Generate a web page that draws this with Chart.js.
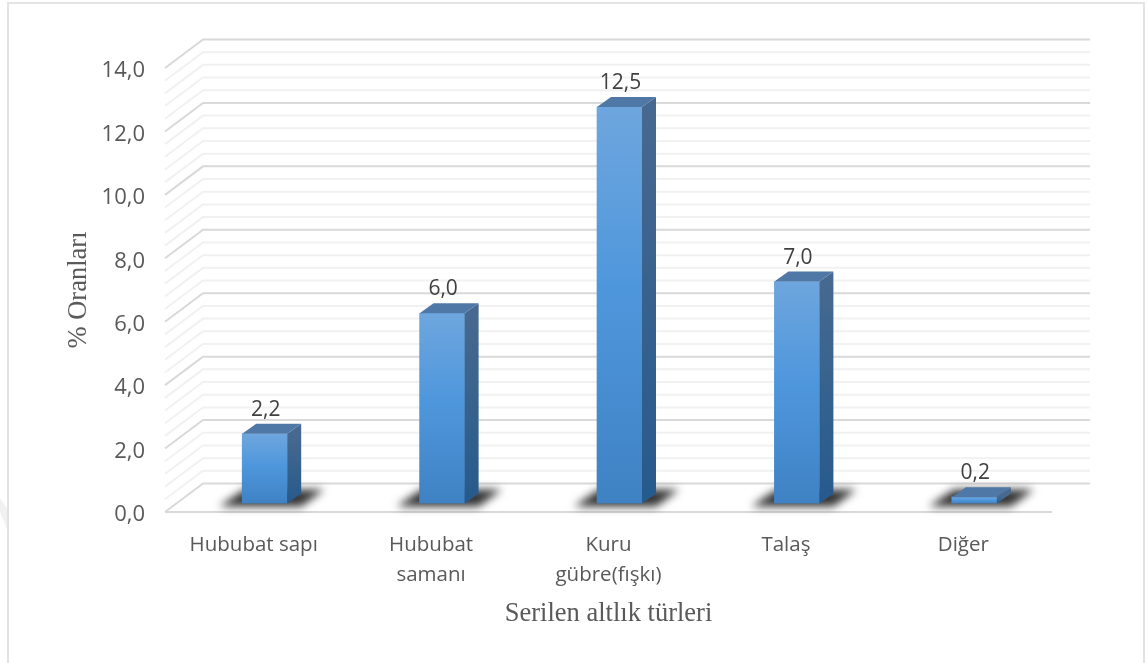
<!DOCTYPE html>
<html>
<head>
<meta charset="utf-8">
<title>Serilen altlık türleri</title>
<script src="https://cdn.jsdelivr.net/npm/chart.js@4/dist/chart.umd.min.js"></script>
<style>
  html, body { margin: 0; padding: 0; background: #fff; overflow: hidden; }
  #cerceve { position: absolute; left: 7px; top: 2px; width: 1134px; height: 700px; border: 2px solid #e3e3e3; }
  #damga { position: absolute; left: 0; top: 498px; width: 8px; height: 34px; background: #f1f1f1; clip-path: polygon(0 0, 100% 35%, 100% 100%, 0 40%); }
  canvas { position: absolute; left: 0; top: 0; }
</style>
</head>
<body>
<div id="damga"></div>
<div id="cerceve"></div>
<canvas id="grafik" width="1148" height="663"></canvas>
<script>
// veriler
const kategoriler = ['Hububat sapı', ['Hububat', 'samanı'], ['Kuru', 'gübre(fışkı)'], 'Talaş', 'Diğer'];
const oranlar = [2.2, 6.0, 12.5, 7.0, 0.2];
const araCizgiler = [0.4, 0.8, 1.2, 1.6];

// 3B görünüm için kaydırmalar
const duvar = { dx: 38, dy: -28.5 };
const sutunKayma = { dx: 11, dy: -8.5 };
const yan = { dx: 14, dy: -10 };

const virgullu = v => v.toFixed(1).replace('.', ',');

const zeminPlugin = {
    id: 'zemin',
    beforeDatasetsDraw(chart) {
        const { ctx, scales, chartArea } = chart;
        const y = scales.y;
        const sol = chartArea.left, sag = chartArea.right;
        const cizgi = (py, renk, kalin) => {
            ctx.strokeStyle = renk;
            ctx.lineWidth = kalin;
            ctx.beginPath();
            ctx.moveTo(sol, py);
            ctx.lineTo(sol + duvar.dx, py + duvar.dy);
            ctx.lineTo(sag + duvar.dx, py + duvar.dy);
            ctx.stroke();
        };
        ctx.save();
        // ara cizgiler once, ana cizgiler ustte
        for (let ana = 0; ana < 14; ana += 2) {
            araCizgiler.forEach(a => cizgi(y.getPixelForValue(ana + a), '#f1f1f1', 2));
        }
        for (let ana = 0; ana <= 14; ana += 2) {
            cizgi(y.getPixelForValue(ana), '#d9d9d9', 2);
        }
        // on kenar
        ctx.strokeStyle = '#d9d9d9';
        ctx.lineWidth = 2;
        ctx.beginPath();
        ctx.moveTo(sol, y.getPixelForValue(0));
        ctx.lineTo(sag, y.getPixelForValue(0));
        ctx.stroke();

        // golgeler
        const meta = chart.getDatasetMeta(0);
        meta.data.forEach(bar => {
            const sl = bar.x - bar.width / 2 + sutunKayma.dx;
            const sr = bar.x + bar.width / 2 + sutunKayma.dx;
            const alt = y.getPixelForValue(0) + sutunKayma.dy;
            ctx.save();
            ctx.filter = 'blur(4px)';
            ctx.fillStyle = 'rgba(40,40,40,0.95)';
            ctx.beginPath();
            ctx.moveTo(sl - 23, alt + 3);
            ctx.lineTo(sl + 2, alt - 14);
            ctx.lineTo(sr + 37, alt - 14);
            ctx.lineTo(sr + 14, alt + 3);
            ctx.closePath();
            ctx.fill();
            ctx.restore();
        });
        ctx.restore();

        // sutunlari derinlige tasi
        ctx.save();
        ctx.translate(sutunKayma.dx, sutunKayma.dy);
    },
    afterDatasetsDraw(chart) {
        const { ctx } = chart;
        const meta = chart.getDatasetMeta(0);
        meta.data.forEach((bar, i) => {
            const sag = bar.x + bar.width / 2;
            const sol = bar.x - bar.width / 2;
            const ust = bar.y, alt = bar.base;
            // yan yuz
            const g = ctx.createLinearGradient(0, ust, 0, alt);
            g.addColorStop(0, '#47698f');
            g.addColorStop(1, '#265a8c');
            ctx.fillStyle = g;
            ctx.beginPath();
            ctx.moveTo(sag, ust);
            ctx.lineTo(sag + yan.dx, ust + yan.dy);
            ctx.lineTo(sag + yan.dx, alt + yan.dy);
            ctx.lineTo(sag, alt);
            ctx.closePath();
            ctx.fill();
            // ust yuz
            ctx.fillStyle = '#4f78a6';
            ctx.beginPath();
            ctx.moveTo(sol, ust);
            ctx.lineTo(sol + yan.dx, ust + yan.dy);
            ctx.lineTo(sag + yan.dx, ust + yan.dy);
            ctx.lineTo(sag, ust);
            ctx.closePath();
            ctx.fill();
            // deger etiketi
            ctx.fillStyle = '#404040';
            ctx.font = '21px "Open Sans"';
            ctx.textAlign = 'center';
            ctx.textBaseline = 'alphabetic';
            ctx.fillText(virgullu(oranlar[i]), bar.x + 1, ust - 18);
        });
        ctx.restore();
    }
};

const ctx = document.getElementById('grafik');
new Chart(ctx, {
    type: 'bar',
    data: {
        labels: kategoriler,
        datasets: [{
            data: oranlar,
            barThickness: 45,
            borderWidth: 0,
            backgroundColor: context => {
                const alan = context.chart.chartArea;
                const el = context.element;
                if (!alan || !el) return '#4f94d8';
                const tepe = context.chart.scales.y.getPixelForValue(context.parsed.y);
                const taban = context.chart.scales.y.getPixelForValue(0);
                const g = context.chart.ctx.createLinearGradient(0, tepe, 0, taban);
                g.addColorStop(0, '#6ea6de');
                g.addColorStop(0.45, '#4f97dc');
                g.addColorStop(1, '#3f82c4');
                return g;
            }
        }]
    },
    plugins: [zeminPlugin],
    options: {
        responsive: false,
        animation: false,
        layout: { padding: { left: 59, right: 96, top: 68, bottom: 29 } },
        plugins: { legend: { display: false }, tooltip: { enabled: false } },
        scales: {
            x: {
                grid: { display: false },
                border: { display: false },
                afterFit: s => { s.height = 122; },
                ticks: { color: '#595959', font: { family: 'Open Sans', size: 20.5, lineHeight: 1.46 }, maxRotation: 0, autoSkip: false, padding: 10 },
                title: { display: true, text: 'Serilen altlık türleri', color: '#595959', font: { family: 'Liberation Serif', size: 26.5 } }
            },
            y: {
                min: 0,
                max: 14,
                afterFit: s => { s.width = 106; },
                grid: { display: false },
                border: { display: false },
                ticks: { stepSize: 2, color: '#595959', font: { family: 'Open Sans', size: 22 }, padding: 12, labelOffset: 3, callback: v => virgullu(v) },
                title: { display: true, text: '% Oranları', color: '#595959', font: { family: 'Liberation Serif', size: 26.5 } }
            }
        }
    }
});
</script>
</body>
</html>
